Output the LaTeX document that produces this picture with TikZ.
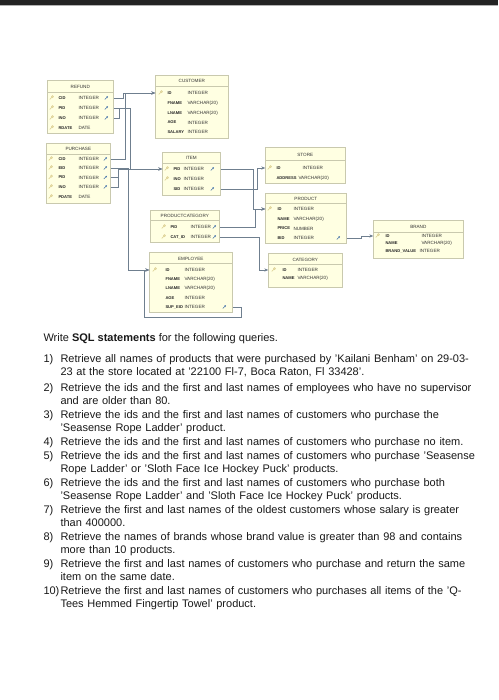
\documentclass[tikz,border=0pt]{standalone}
\usepackage{fontspec}
\setmainfont{Liberation Sans}
\usetikzlibrary{arrows.meta, calc, positioning}
\usepackage{xcolor}
\definecolor{tblfill}{HTML}{FFFFE2}
\definecolor{tblline}{HTML}{C9C9AE}
\definecolor{relline}{HTML}{6F7F8F}
\definecolor{keycol}{HTML}{E0D49A}
\definecolor{fkcol}{HTML}{3F6FA8}
\definecolor{topbar}{HTML}{232323}
\tikzset{
  % ER tables
  tablebox/.style={
    rectangle, draw=tblline, fill=tblfill,
    line width=0.6pt, anchor=north west, inner sep=0pt
  },
  tablehead/.style={
    font=\fontsize{4.6}{5}\selectfont, text=black!80, inner sep=0pt
  },
  colname/.style={
    font=\fontsize{4.1}{5}\selectfont\bfseries, text=black!85,
    anchor=west, inner sep=0pt
  },
  coltype/.style={
    font=\fontsize{4.6}{5}\selectfont, text=black!80,
    anchor=west, inner sep=0pt
  },
  headrule/.style={draw=tblline, line width=0.5pt},
  fkline/.style={
    draw=relline, line width=0.6pt, -{Stealth[length=4pt,width=3.2pt]}
  },
  fkpart/.style={draw=relline, line width=0.6pt},
  keyicon/.pic={
    \draw[keycol, line width=0.7pt] (-1.6,1.4) -- (0.6,-0.8);
    \draw[keycol, line width=0.6pt] (1.2,-1.4) circle (1pt);
  },
  fkicon/.pic={
    \draw[fkcol, line width=0.5pt, -{Stealth[length=1.6pt,width=1.8pt]}]
      (-1.5,1.5) -- (1.7,-1.7);
  },
  % query list
  qnum/.style={
    anchor=base west, inner sep=0pt, text=black!90,
    font=\fontsize{11}{13.5}\selectfont
  },
  qtext/.style={
    anchor=base west, inner sep=0pt, text=black!90,
    text width=430pt, align=left,
    font=\fontsize{11}{13.5}\selectfont
  }
}

\begin{document}
\begin{tikzpicture}[x=1pt, y=-1pt]

  \fill[white] (0,0) rectangle (498,700);
  \fill[topbar] (0,0) rectangle (498,5);
  \draw[gray!60, line width=0.6pt] (0,5.6) -- (498,5.6);

  % REFUND
  \node[tablebox, minimum width=66pt, minimum height=53pt] (refund) at (47,80) {};
  \node[tablehead] (refund-h) at (80,86.5) {REFUND};
  \draw[headrule] (47,92) -- (113,92);
  \node[colname] (refund-cid) at (58,98) {CID};
  \node[coltype] (refund-cidt) at (78,98) {INTEGER};
  \node[colname] (refund-pid) at (58,108) {PID};
  \node[coltype] (refund-pidt) at (78,108) {INTEGER};
  \node[colname] (refund-ino) at (58,118) {INO};
  \node[coltype] (refund-inot) at (78,118) {INTEGER};
  \node[colname] (refund-rdate) at (58,128) {RDATE};
  \node[coltype] (refund-rdatet) at (78,128) {DATE};
  \pic at (51,98) {keyicon}; \pic at (51,108) {keyicon};
  \pic at (51,118) {keyicon}; \pic at (51,128) {keyicon};
  \pic at (106,98) {fkicon}; \pic at (106,108) {fkicon}; \pic at (106,118) {fkicon};

  % CUSTOMER
  \node[tablebox, minimum width=73pt, minimum height=63pt] (customer) at (155,75) {};
  \node[tablehead] (customer-h) at (191.5,81) {CUSTOMER};
  \draw[headrule] (155,86.5) -- (228,86.5);
  \node[colname] (customer-id) at (167,93) {ID};
  \node[coltype] (customer-idt) at (187,93) {INTEGER};
  \node[colname] (customer-fname) at (167,103) {FNAME};
  \node[coltype] (customer-fnamet) at (187,103) {VARCHAR(20)};
  \node[colname] (customer-lname) at (167,113) {LNAME};
  \node[coltype] (customer-lnamet) at (187,113) {VARCHAR(20)};
  \node[colname] (customer-age) at (167,122.5) {AGE};
  \node[coltype] (customer-aget) at (187,122.5) {INTEGER};
  \node[colname] (customer-salary) at (167,132) {SALARY};
  \node[coltype] (customer-salaryt) at (187,132) {INTEGER};
  \pic at (160,93) {keyicon};

  % PURCHASE
  \node[tablebox, minimum width=64pt, minimum height=60pt] (purchase) at (46,143) {};
  \node[tablehead] (purchase-h) at (78,149) {PURCHASE};
  \draw[headrule] (46,154) -- (110,154);
  \node[colname] (purchase-cid) at (58,159) {CID};
  \node[coltype] (purchase-cidt) at (78,159) {INTEGER};
  \node[colname] (purchase-eid) at (58,168) {EID};
  \node[coltype] (purchase-eidt) at (78,168) {INTEGER};
  \node[colname] (purchase-pid) at (58,177.5) {PID};
  \node[coltype] (purchase-pidt) at (78,177.5) {INTEGER};
  \node[colname] (purchase-ino) at (58,187) {INO};
  \node[coltype] (purchase-inot) at (78,187) {INTEGER};
  \node[colname] (purchase-pdate) at (58,197) {PDATE};
  \node[coltype] (purchase-pdatet) at (78,197) {DATE};
  \pic at (50,159) {keyicon}; \pic at (50,168) {keyicon}; \pic at (50,177.5) {keyicon};
  \pic at (50,187) {keyicon}; \pic at (50,197) {keyicon};
  \pic at (105,159) {fkicon}; \pic at (105,168) {fkicon};
  \pic at (105,177.5) {fkicon}; \pic at (105,187) {fkicon};

  % ITEM
  \node[tablebox, minimum width=58pt, minimum height=43pt] (item) at (162,152) {};
  \node[tablehead] (item-h) at (191,158) {ITEM};
  \draw[headrule] (162,163) -- (220,163);
  \node[colname] (item-pid) at (173,169) {PID};
  \node[coltype] (item-pidt) at (183,169) {INTEGER};
  \node[colname] (item-ino) at (173,179) {INO};
  \node[coltype] (item-inot) at (183,179) {INTEGER};
  \node[colname] (item-sid) at (173,189) {SID};
  \node[coltype] (item-sidt) at (183,189) {INTEGER};
  \pic at (166,169) {keyicon}; \pic at (166,179) {keyicon};
  \pic at (212,169) {fkicon}; \pic at (212,189) {fkicon};

  % STORE
  \node[tablebox, minimum width=80pt, minimum height=36pt] (store) at (265,147) {};
  \node[tablehead] (store-h) at (305,155) {STORE};
  \draw[headrule] (265,160) -- (345,160);
  \node[colname] (store-id) at (276,168) {ID};
  \node[coltype] (store-idt) at (302,168) {INTEGER};
  \node[colname] (store-address) at (276,178.5) {ADDRESS};
  \node[coltype] (store-addresst) at (298,178.5) {VARCHAR(20)};
  \pic at (269,168) {keyicon};

  % PRODUCTCATEGORY
  \node[tablebox, minimum width=69pt, minimum height=32pt] (prodcat) at (150,210) {};
  \node[tablehead] (prodcat-h) at (184.5,215.5) {PRODUCTCATEGORY};
  \draw[headrule] (150,220.5) -- (219,220.5);
  \node[colname] (prodcat-pid) at (170,227) {PID};
  \node[coltype] (prodcat-pidt) at (190,227) {INTEGER};
  \node[colname] (prodcat-cat) at (170,237) {CAT\_ID};
  \node[coltype] (prodcat-catt) at (190,237) {INTEGER};
  \pic at (163,227) {keyicon}; \pic at (163,237) {keyicon};
  \pic at (214,227) {fkicon}; \pic at (214,237) {fkicon};

  % PRODUCT
  \node[tablebox, minimum width=81pt, minimum height=50pt] (product) at (265,193) {};
  \node[tablehead] (product-h) at (305.5,198.5) {PRODUCT};
  \draw[headrule] (265,203.5) -- (346,203.5);
  \node[colname] (product-id) at (277,209) {ID};
  \node[coltype] (product-idt) at (293,209) {INTEGER};
  \node[colname] (product-name) at (277,219) {NAME};
  \node[coltype] (product-namet) at (293,219) {VARCHAR(20)};
  \node[colname] (product-price) at (277,228.5) {PRICE};
  \node[coltype] (product-pricet) at (293,228.5) {NUMBER};
  \node[colname] (product-bid) at (277,238) {BID};
  \node[coltype] (product-bidt) at (293,238) {INTEGER};
  \pic at (269,209) {keyicon};
  \pic at (338,238) {fkicon};

  % BRAND
  \node[tablebox, minimum width=90pt, minimum height=38pt] (brand) at (373,220) {};
  \node[tablehead] (brand-h) at (418,227) {BRAND};
  \draw[headrule] (373,232) -- (463,232);
  \node[colname] (brand-id) at (385,236) {ID};
  \node[coltype] (brand-idt) at (421,236) {INTEGER};
  \node[colname] (brand-name) at (385,243.5) {NAME};
  \node[coltype] (brand-namet) at (421,243.5) {VARCHAR(20)};
  \node[colname] (brand-value) at (385,251) {BRAND\_VALUE};
  \node[coltype] (brand-valuet) at (419,251) {INTEGER};
  \pic at (377,236) {keyicon};

  % EMPLOYEE
  \node[tablebox, minimum width=83pt, minimum height=60pt] (employee) at (149,252) {};
  \node[tablehead] (employee-h) at (190.5,258.5) {EMPLOYEE};
  \draw[headrule] (149,263.5) -- (232,263.5);
  \node[colname] (employee-id) at (165,270) {ID};
  \node[coltype] (employee-idt) at (184,270) {INTEGER};
  \node[colname] (employee-fname) at (165,279) {FNAME};
  \node[coltype] (employee-fnamet) at (184,279) {VARCHAR(20)};
  \node[colname] (employee-lname) at (165,288.5) {LNAME};
  \node[coltype] (employee-lnamet) at (184,288.5) {VARCHAR(20)};
  \node[colname] (employee-age) at (165,298) {AGE};
  \node[coltype] (employee-aget) at (184,298) {INTEGER};
  \node[colname] (employee-sup) at (165,307) {SUP\_EID};
  \node[coltype] (employee-supt) at (184,307) {INTEGER};
  \pic at (154,270) {keyicon};
  \pic at (224,307) {fkicon};

  % CATEGORY
  \node[tablebox, minimum width=74pt, minimum height=34pt] (category) at (268,253) {};
  \node[tablehead] (category-h) at (305,259.5) {CATEGORY};
  \draw[headrule] (268,264.5) -- (342,264.5);
  \node[colname] (category-id) at (282,270) {ID};
  \node[coltype] (category-idt) at (297,270) {INTEGER};
  \node[colname] (category-name) at (282,278.5) {NAME};
  \node[coltype] (category-namet) at (297,278.5) {VARCHAR(20)};
  \pic at (273,270) {keyicon};

  % foreign keys
  \draw[fkline] (refund.east |- refund-cid) -- ++(9,0) |- (customer.west |- customer-id);
  \draw[fkline] (purchase.east |- purchase-cid) -- ++(14,0) |- (customer.west |- customer-id);
  \draw[fkline] (refund.east |- refund-pid) -- ++(16,0) |- (item.west |- item-pid);
  \draw[fkpart] (refund.east |- refund-ino) -- ++(5,0) |- (refund.east |- refund-pid);
  \draw[fkline] (purchase.east |- purchase-eid) -- ++(17,0) |- (employee.west |- employee-id);
  \draw[fkline] (purchase.east |- purchase-pid) -- ++(7,0) |- (item.west |- item-pid);
  \draw[fkpart] (purchase.east |- purchase-ino) -- ++(7,0) |- (purchase.east |- purchase-pid);
  \draw[fkline] (item.east |- item-pid) -- ++(32,0) |- (product.west |- product-id);
  \draw[fkline] (item.east |- item-sid) -- ++(36,0) |- (store.west |- store-id);
  \draw[fkline] (prodcat.east |- prodcat-pid) -- ++(35,0) |- (product.west |- product-id);
  \draw[fkline] (prodcat.east |- prodcat-cat) -- ++(39,0) |- (category.west |- category-id);
  \draw[fkline] (product.east |- product-bid) -- ++(14,0) |- (brand.west |- brand-id);
  \draw[fkline] (employee.east |- employee-sup) -- ++(8,0) -- ++(0,10) -- ++(-97,0)
    |- (employee.west |- employee-id);

  % queries
  \node[qnum] (intro) at (43,341) {Write \textbf{SQL statements} for the following queries.};
  \node[qnum] (n1) at (43,362) {1)};
  \node[qtext] (q1) at (60,362) {Retrieve all names of products that were purchased by 'Kailani Benham' on 29-03-\\23 at the store located at '22100 Fl-7, Boca Raton, Fl 33428'.};
  \node[qnum] (n2) at (43,391) {2)};
  \node[qtext] (q2) at (60,391) {Retrieve the ids and the first and last names of employees who have no supervisor\\and are older than 80.};
  \node[qnum] (n3) at (43,418) {3)};
  \node[qtext] (q3) at (60,418) {Retrieve the ids and the first and last names of customers who purchase the\\'Seasense Rope Ladder' product.};
  \node[qnum] (n4) at (43,445) {4)};
  \node[qtext] (q4) at (60,445) {Retrieve the ids and the first and last names of customers who purchase no item.};
  \node[qnum] (n5) at (43,459) {5)};
  \node[qtext] (q5) at (60,459) {Retrieve the ids and the first and last names of customers who purchase 'Seasense\\Rope Ladder' or 'Sloth Face Ice Hockey Puck' products.};
  \node[qnum] (n6) at (43,486) {6)};
  \node[qtext] (q6) at (60,486) {Retrieve the ids and the first and last names of customers who purchase both\\'Seasense Rope Ladder' and 'Sloth Face Ice Hockey Puck' products.};
  \node[qnum] (n7) at (43,513) {7)};
  \node[qtext] (q7) at (60,513) {Retrieve the first and last names of the oldest customers whose salary is greater\\than 400000.};
  \node[qnum] (n8) at (43,540) {8)};
  \node[qtext] (q8) at (60,540) {Retrieve the names of brands whose brand value is greater than 98 and contains\\more than 10 products.};
  \node[qnum] (n9) at (43,567) {9)};
  \node[qtext] (q9) at (60,567) {Retrieve the first and last names of customers who purchase and return the same\\item on the same date.};
  \node[qnum] (n10) at (43,594) {10)};
  \node[qtext] (q10) at (60,594) {Retrieve the first and last names of customers who purchases all items of the 'Q-\\Tees Hemmed Fingertip Towel' product.};

\end{tikzpicture}
\end{document}
